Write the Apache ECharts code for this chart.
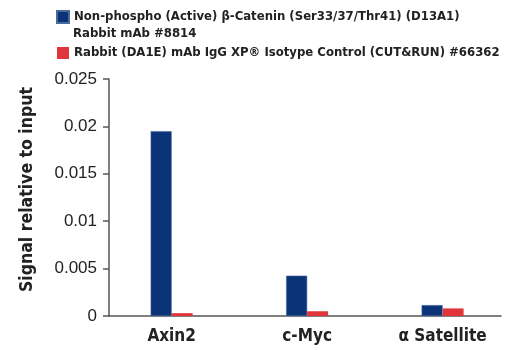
<!DOCTYPE html>
<html>
<head>
<meta charset="utf-8">
<script src="https://cdn.jsdelivr.net/npm/echarts@6/dist/echarts.min.js"></script>
<style>
  html, body { margin: 0; padding: 0; background: #fff; }
  #chart { width: 520px; height: 350px; }
</style>
</head>
<body>
<div id="chart"></div>
<script>
// Target genes on the x axis
const categories = ['Axin2', 'c-Myc', '\u03b1 Satellite'];
// Signal relative to input for each antibody
const cateninValues = [0.0195, 0.00425, 0.00115];
const isotypeValues = [0.0003, 0.0005, 0.0008];
// Y axis scale
const yTicks = { min: 0, max: 0.025, interval: 0.005 };

const seriesNames = [
  'Non-phospho (Active) \u03b2-Catenin (Ser33/37/Thr41) (D13A1)',
  'Rabbit (DA1E) mAb IgG XP\u00ae Isotype Control (CUT&RUN) #66362'
];
const legendSecondLine = 'Rabbit mAb #8814';

const FONT = "'Liberation Sans Narrow', 'DejaVu Sans Condensed', 'Roboto Condensed', 'Liberation Sans', sans-serif";
const TICK_FONT = "'Liberation Sans', Arial, sans-serif";
const AXIS = '#555555';
const BLUE = '#0b3478';
const RED = '#e0353a';

const chart = echarts.init(document.getElementById('chart'), null, { renderer: 'canvas' });

const toPoints = vals => vals.map((v, i) => [i, v]);

chart.setOption({
  animation: false,
  backgroundColor: '#ffffff',
  textStyle: { fontFamily: FONT },
  grid: { left: 109, right: 19, top: 79, bottom: 34, containLabel: false },
  legend: {
    orient: 'vertical',
    left: 56,
    top: 10,
    padding: 0,
    itemWidth: 12,
    itemHeight: 12,
    itemGap: 22,
    icon: 'rect',
    selectedMode: false,
    textStyle: { fontFamily: FONT, fontWeight: 'bold', fontSize: 13, lineHeight: 14, color: '#222' },
    data: seriesNames
  },
  graphic: [{
    type: 'text',
    left: 73,
    top: 27,
    style: { text: legendSecondLine, font: 'bold 13px ' + FONT, fill: '#222' }
  }],
  xAxis: {
    type: 'value',
    min: -0.4625,
    max: 2.431,
    splitLine: { show: false },
    axisTick: { show: false },
    axisLine: { show: true, onZero: false, lineStyle: { color: AXIS, width: 1.5 } },
    axisLabel: {
      customValues: [0, 1, 2],
      formatter: v => categories[Math.round(v)] || '',
      margin: 12,
      fontFamily: FONT,
      fontWeight: 'bold',
      fontSize: 17,
      color: '#222'
    }
  },
  yAxis: {
    type: 'value',
    min: yTicks.min,
    max: yTicks.max,
    interval: yTicks.interval,
    name: 'Signal relative to input',
    nameLocation: 'middle',
    nameGap: 73,
    nameTextStyle: { fontFamily: FONT, fontWeight: 'bold', fontSize: 17.5, color: '#222', padding: [0, 0, 0, 16] },
    splitLine: { show: false },
    axisLine: { show: true, onZero: false, lineStyle: { color: AXIS, width: 1.5 } },
    axisTick: { show: true, inside: false, length: 6, lineStyle: { color: AXIS, width: 1.5 } },
    axisLabel: { margin: 12, fontFamily: TICK_FONT, fontSize: 17, color: '#222' }
  },
  series: [
    {
      name: seriesNames[0],
      type: 'bar',
      data: toPoints(cateninValues),
      barWidth: 21,
      barGap: '0%',
      itemStyle: { color: BLUE, borderColor: '#4a6a9e', borderWidth: 0.5 }
    },
    {
      name: seriesNames[1],
      type: 'bar',
      data: toPoints(isotypeValues),
      barWidth: 21,
      barGap: '0%',
      itemStyle: { color: RED }
    }
  ]
});
</script>
</body>
</html>
